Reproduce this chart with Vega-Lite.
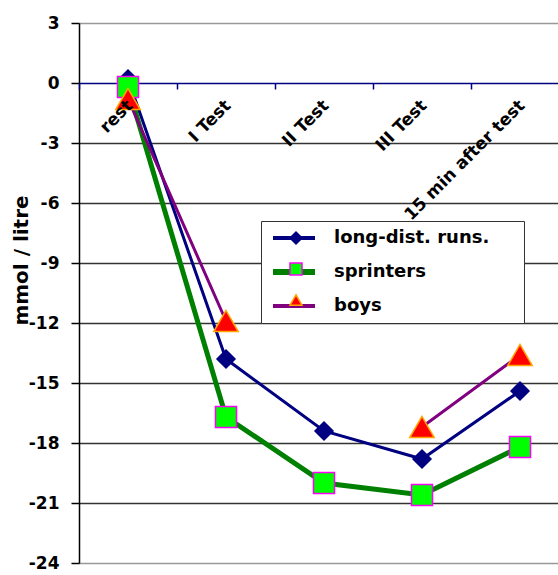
{
  "$schema": "https://vega.github.io/schema/vega-lite/v6.json",
  "width": 479,
  "height": 540,
  "autosize": {"type": "none"},
  "padding": {"left": 79, "top": 23, "right": 0, "bottom": 12},
  "background": "white",
  "config": {"font": "DejaVu Sans", "view": {"stroke": "#999", "strokeWidth": 1}},
  "data": {"values": [
    {"series": "long-dist. runs.", "test": "rest", "value": 0.2},
    {"series": "long-dist. runs.", "test": "I Test", "value": -13.8},
    {"series": "long-dist. runs.", "test": "II Test", "value": -17.4},
    {"series": "long-dist. runs.", "test": "III Test", "value": -18.8},
    {"series": "long-dist. runs.", "test": "15 min after test", "value": -15.4},
    {"series": "sprinters", "test": "rest", "value": -0.2},
    {"series": "sprinters", "test": "I Test", "value": -16.7},
    {"series": "sprinters", "test": "II Test", "value": -20.0},
    {"series": "sprinters", "test": "III Test", "value": -20.6},
    {"series": "sprinters", "test": "15 min after test", "value": -18.2},
    {"series": "boys", "test": "rest", "value": -0.8},
    {"series": "boys", "test": "I Test", "value": -11.9},
    {"series": "boys", "test": "II Test", "value": null},
    {"series": "boys", "test": "III Test", "value": -17.2},
    {"series": "boys", "test": "15 min after test", "value": -13.6}
  ]},
  "encoding": {
    "x": {
      "field": "test", "type": "nominal",
      "sort": ["rest", "I Test", "II Test", "III Test", "15 min after test"],
      "scale": {"type": "band", "range": [0, 490], "paddingInner": 0, "paddingOuter": 0},
      "axis": {
        "title": null, "orient": "bottom", "offset": -480, "labelAngle": -45, "zindex": 1,
        "labelFont": "DejaVu Sans", "labelFontSize": 17, "labelFontWeight": "bold", "labelColor": "black",
        "labelPadding": 8, "labelOffset": -4, "domain": false,
        "tickColor": "#000080", "tickSize": 6, "tickWidth": 1.5, "tickBand": "extent", "grid": false
      }
    },
    "y": {
      "field": "value", "type": "quantitative",
      "scale": {"domain": [-24, 3], "nice": false, "zero": false},
      "axis": {
        "values": [-24, -21, -18, -15, -12, -9, -6, -3, 0, 3],
        "labelExpr": "'' + datum.value",
        "title": "mmol / litre", "titleFont": "DejaVu Sans", "titleFontSize": 20, "titleFontWeight": "bold",
        "titleColor": "black", "titleX": -58, "titleY": 237, "titleBaseline": "middle", "titleAngle": -90,
        "labelFont": "DejaVu Sans", "labelFontSize": 17, "labelFontWeight": "bold", "labelColor": "black",
        "labelPadding": 12, "domainColor": "black", "domainWidth": 1.5,
        "tickColor": "black", "tickSize": 8, "tickWidth": 1.5,
        "gridColor": {"condition": [
          {"test": "datum.value === 0", "value": "#000080"},
          {"test": "datum.value === 3 || datum.value === -24", "value": "#999999"}
        ], "value": "#333333"},
        "gridWidth": 1.5
      }
    }
  },
  "layer": [
    {
      "mark": {"type": "line", "invalid": "break-paths-show-domains"},
      "encoding": {
        "color": {
          "field": "series", "type": "nominal",
          "scale": {"domain": ["long-dist. runs.", "sprinters", "boys"], "range": ["#000080", "#008000", "#800080"]},
          "legend": {
            "orient": "none", "legendX": 182, "legendY": 198, "title": " ",
            "titleOrient": "right", "titlePadding": 27, "titleFontSize": 10,
            "symbolType": "stroke", "symbolSize": 1764, "symbolStrokeWidth": 4, "symbolOffset": 16,
            "labelFont": "DejaVu Sans", "labelFontSize": 18, "labelFontWeight": "bold", "labelColor": "black",
            "labelOffset": 31, "rowPadding": 13, "padding": 8,
            "strokeColor": "#333333", "fillColor": "white",
            "encode": {"symbols": {"update": {"strokeWidth": {"signal": "datum.value === 'sprinters' ? 6 : 4"}}}}
          }
        },
        "strokeWidth": {"condition": {"test": "datum.series === 'sprinters'", "value": 5}, "value": 3}
      }
    },
    {
      "mark": {"type": "point", "filled": true, "strokeWidth": 1.5, "opacity": 1},
      "encoding": {
        "shape": {
          "field": "series", "type": "nominal",
          "scale": {"domain": ["long-dist. runs.", "sprinters", "boys"], "range": ["diamond", "square", "triangle-up"]},
          "legend": {
            "orient": "none", "legendX": 200, "legendY": 198, "title": null,
            "symbolSize": 144, "symbolStrokeWidth": 1.5,
            "labelFont": "DejaVu Sans", "labelFontSize": 18, "labelFontWeight": "bold", "labelOpacity": 0,
            "labelExpr": "' '", "labelOffset": 5, "rowPadding": 13, "padding": 8
          }
        },
        "fill": {
          "field": "series", "type": "nominal",
          "scale": {"domain": ["long-dist. runs.", "sprinters", "boys"], "range": ["#000080", "#00FF00", "#FF0000"]},
          "legend": {
            "orient": "none", "legendX": 200, "legendY": 198, "title": null,
            "symbolSize": 144, "symbolStrokeWidth": 1.5,
            "labelFont": "DejaVu Sans", "labelFontSize": 18, "labelFontWeight": "bold", "labelOpacity": 0,
            "labelExpr": "' '", "labelOffset": 5, "rowPadding": 13, "padding": 8
          }
        },
        "stroke": {
          "field": "series", "type": "nominal",
          "scale": {"domain": ["long-dist. runs.", "sprinters", "boys"], "range": ["#000080", "#FF00FF", "#FFA500"]},
          "legend": {
            "orient": "none", "legendX": 200, "legendY": 198, "title": null,
            "symbolSize": 144, "symbolStrokeWidth": 1.5,
            "labelFont": "DejaVu Sans", "labelFontSize": 18, "labelFontWeight": "bold", "labelOpacity": 0,
            "labelExpr": "' '", "labelOffset": 5, "rowPadding": 13, "padding": 8
          }
        },
        "size": {"condition": [
          {"test": "datum.series === 'sprinters'", "value": 441},
          {"test": "datum.series === 'boys'", "value": 600}
        ], "value": 324}
      }
    }
  ],
  "resolve": {"legend": {"color": "independent", "shape": "independent", "fill": "independent", "stroke": "independent"}}
}
